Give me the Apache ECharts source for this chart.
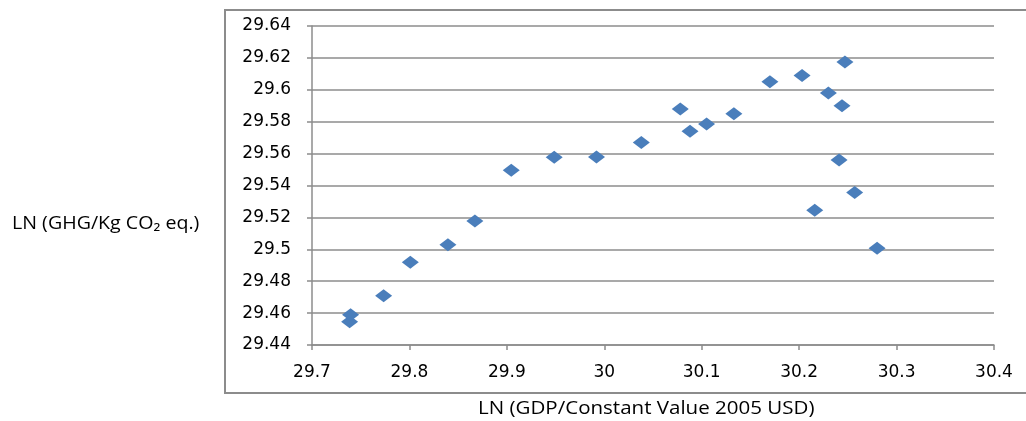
<!DOCTYPE html>
<html><head><meta charset="utf-8">
<script src="https://cdn.jsdelivr.net/npm/echarts@6/dist/echarts.min.js"></script>
<style>html,body{margin:0;padding:0;background:#fff}#c{width:1026px;height:421px}</style>
</head><body><div id="c"></div>
<script>
var xValues = [29.7386, 29.7396, 29.7735, 29.8009, 29.8395, 29.8672, 29.9045, 29.9486, 29.992, 30.038, 30.078, 30.088, 30.105, 30.133, 30.170, 30.203, 30.230, 30.244, 30.247, 30.241, 30.216, 30.257, 30.280];
var yValues = [29.4545, 29.459, 29.4708, 29.4919, 29.5028, 29.5178, 29.5495, 29.5577, 29.5579, 29.567, 29.588, 29.574, 29.5786, 29.585, 29.605, 29.609, 29.598, 29.590, 29.6175, 29.556, 29.5245, 29.5356, 29.5006];
var xTicks = ['29.7','29.8','29.9','30','30.1','30.2','30.3','30.4'];
var yTicks = ['29.44','29.46','29.48','29.5','29.52','29.54','29.56','29.58','29.6','29.62','29.64'];
var xTitle = 'LN (GDP/Constant Value 2005 USD)';
var yTitle = 'LN (GHG/Kg CO\u2082 eq.)';

var pts = xValues.map(function(x,i){return [x, yValues[i]];});
var chart = echarts.init(document.getElementById('c'));
chart.setOption({
  animation:false,
  grid:{left:312, right:32, top:26, bottom:76},
  graphic:[
    {type:'rect', shape:{x:225, y:10, width:820, height:383}, style:{fill:'none', stroke:'#8c8c8c', lineWidth:2}, z:-1},
    {type:'text', x:12, y:224, scaleX:1.09, style:{text:yTitle, font:'18px "Open Sans"', fill:'#000', textVerticalAlign:'middle'}},
    {type:'text', x:478, y:409, scaleX:1.14, style:{text:xTitle, font:'18px "Open Sans"', fill:'#000', textVerticalAlign:'middle'}}
  ],
  xAxis:{type:'value', min:29.7, max:30.4, interval:0.1,
    axisLine:{show:true, lineStyle:{color:'#8c8c8c', width:1.5}},
    axisTick:{show:true, length:5, lineStyle:{color:'#8c8c8c', width:1.5}},
    splitLine:{show:false},
    axisLabel:{margin:19, color:'#000', fontFamily:'DejaVu Sans', fontSize:17,
      formatter:function(v){var i=Math.round((v-29.7)/0.1); return xTicks[i]!==undefined?xTicks[i]:'';}}
  },
  yAxis:{type:'value', min:29.44, max:29.64, interval:0.02,
    axisLine:{show:true, lineStyle:{color:'#8c8c8c', width:1.5}},
    axisTick:{show:true, length:5, lineStyle:{color:'#8c8c8c', width:1.5}},
    splitLine:{show:true, lineStyle:{color:'#8c8c8c', width:1.5}},
    axisLabel:{margin:21, color:'#000', fontFamily:'DejaVu Sans', fontSize:17,
      formatter:function(v){var i=Math.round((v-29.44)/0.02); return yTicks[i]!==undefined?yTicks[i]:'';}}
  },
  series:[{type:'scatter', data:pts, symbol:'diamond', symbolSize:[17,13],
    itemStyle:{color:'#4A7EBB', opacity:1}}]
});
</script></body></html>
